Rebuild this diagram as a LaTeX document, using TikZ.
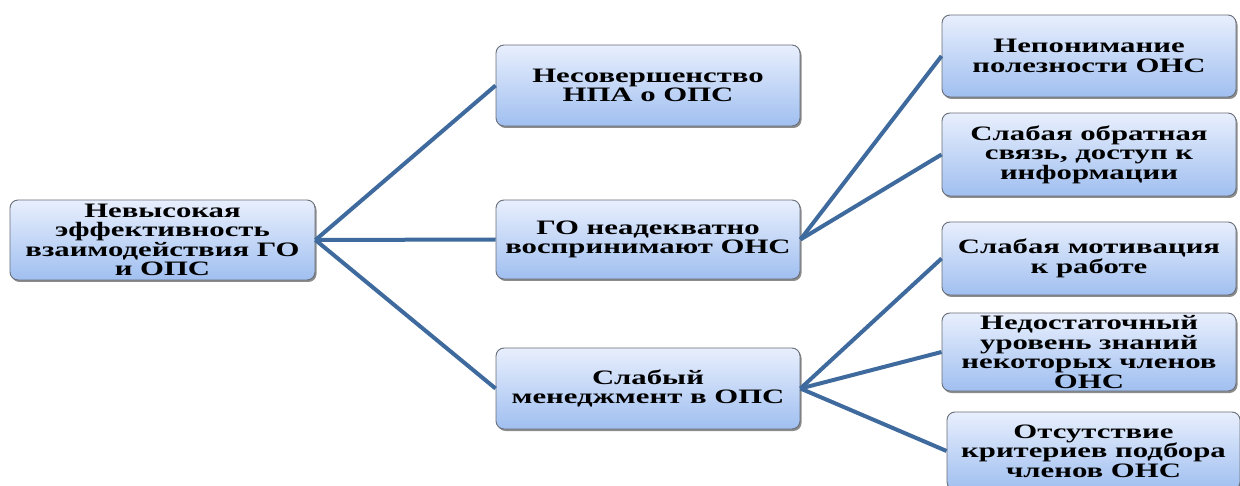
\documentclass[tikz,border=0pt]{standalone}
\usepackage{fontspec}
\setmainfont{Liberation Serif}[FakeStretch=1.5]
\usetikzlibrary{shadows}
\definecolor{linkblue}{RGB}{62,106,158}
\definecolor{boxtop}{RGB}{232,239,253}
\definecolor{boxbot}{RGB}{160,191,240}
\definecolor{boxedge}{RGB}{105,110,120}
\tikzset{
  box/.style={draw=boxedge, line width=0.9pt, rounded corners=8pt,
    top color=boxtop, bottom color=boxbot, inner sep=0pt, align=center,
    font=\bfseries\fontsize{20.5}{19.5}\selectfont,
    drop shadow={shadow xshift=1.5pt, shadow yshift=-2pt, fill=black, opacity=0.45}},
  link/.style={draw=linkblue, line width=4pt, line join=round}
}
\begin{document}
\begin{tikzpicture}[x=1pt,y=-1pt]
\clip (0,0) rectangle (1240,486);
\fill[white] (0,0) rectangle (1240,486);
\node[box, minimum width=305pt, minimum height=80pt] (root) at (162.5,240) {Невысокая\\эффективность\\взаимодействия ГО\\и ОПС};
\node[box, minimum width=304pt, minimum height=81pt] (b2) at (648,85.5) {Несовершенство\\НПА о ОПС};
\node[box, minimum width=304pt, minimum height=79pt] (b3) at (648,239.5) {ГО неадекватно\\воспринимают ОНС};
\node[box, minimum width=304pt, minimum height=81pt] (b4) at (648,388.5) {Слабый\\менеджмент в ОПС};
\node[box, minimum width=294pt, minimum height=82pt] (r5) at (1089,56) {Непонимание\\полезности ОНС};
\node[box, minimum width=294pt, minimum height=83pt] (r6) at (1089,154.5) {Слабая обратная\\связь, доступ к\\информации};
\node[box, minimum width=294pt, minimum height=73pt] (r7) at (1089,258.5) {Слабая мотивация\\к работе};
\node[box, minimum width=294pt, minimum height=78pt] (r8) at (1089,352) {Недостаточный\\уровень знаний\\некоторых членов\\ОНС};
\node[box, minimum width=293pt, minimum height=78pt] (r9) at (1093.5,451) {Отсутствие\\критериев подбора\\членов ОНС};
\draw[link] (root.east) -- (b2.west);
\draw[link] (root.east) -- (b3.west);
\draw[link] (root.east) -- (b4.west);
\draw[link] (b3.east) -- (r5.west);
\draw[link] (b3.east) -- (r6.west);
\draw[link] (b4.east) -- (r7.west);
\draw[link] (b4.east) -- (r8.west);
\draw[link] (b4.east) -- (r9.west);
\end{tikzpicture}
\end{document}
